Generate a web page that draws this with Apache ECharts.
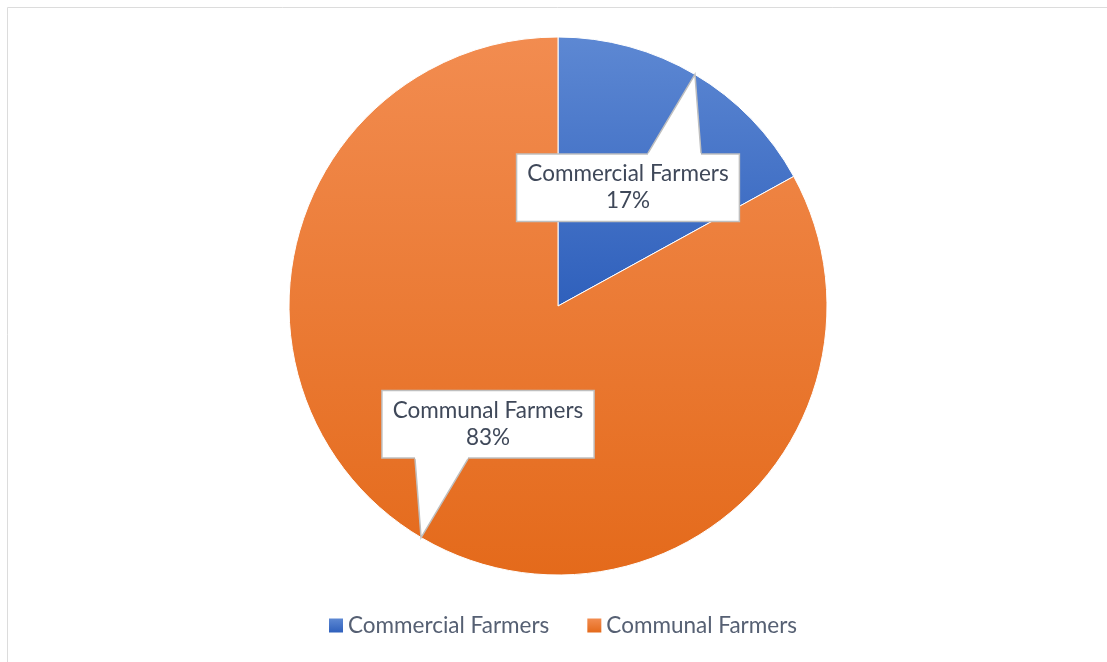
<!DOCTYPE html>
<html>
<head>
<meta charset="utf-8">
<script src="https://cdn.jsdelivr.net/npm/echarts@6/dist/echarts.min.js"></script>
<style>
  html, body { margin: 0; padding: 0; background: #ffffff; }
  #chart { width: 1107px; height: 662px; }
</style>
</head>
<body>
<div id="chart"></div>
<script>
// Farmer groups and their share (%)
const categories = ['Commercial Farmers', 'Communal Farmers'];
const shares = [17, 83];

const FONT = 'Lato, "Open Sans", sans-serif';
const LABEL_COLOR = '#3f4859';
const LEGEND_COLOR = '#566073';
const CALLOUT_BORDER = '#bfbfbf';

// Vertical shading per slice: lighter at the top, deeper at the bottom
const sliceColors = [
  new echarts.graphic.LinearGradient(0, 0, 0, 1, [
    { offset: 0, color: '#5d88d3' },
    { offset: 1, color: '#2f60bc' }
  ]),
  new echarts.graphic.LinearGradient(0, 0, 0, 1, [
    { offset: 0, color: '#f28c50' },
    { offset: 1, color: '#e46a1b' }
  ])
];

const chart = echarts.init(document.getElementById('chart'), null, { renderer: 'canvas' });
const labelRects = [];

chart.setOption({
  animation: false,
  backgroundColor: '#ffffff',
  legend: {
    data: categories,
    bottom: 20,
    left: 324,
    icon: 'rect',
    itemWidth: 14,
    itemHeight: 14,
    itemGap: 38,
    itemStyle: { borderWidth: 0 },
    textStyle: { color: LEGEND_COLOR, fontFamily: FONT, fontSize: 22.5 }
  },
  series: [{
    type: 'pie',
    z: 2,
    center: [558, 306],
    radius: 269,
    startAngle: 90,
    clockwise: true,
    silent: true,
    itemStyle: { borderColor: '#ffffff', borderWidth: 1 },
    label: {
      show: true,
      position: 'inside',
      formatter: '{b}\n{d}%',
      color: LABEL_COLOR,
      fontFamily: FONT,
      fontSize: 22.5,
      lineHeight: 27,
      align: 'center',
      backgroundColor: '#ffffff',
      borderColor: CALLOUT_BORDER,
      borderWidth: 1.5,
      padding: [9, 10, 3, 10]
    },
    labelLine: { show: false },
    labelLayout: function (params) {
      labelRects[params.dataIndex] = params.labelRect;
      return {};
    },
    data: categories.map((name, i) => ({
      name: name,
      value: shares[i],
      itemStyle: { color: sliceColors[i] }
    }))
  }]
});

// Callout pointers: from each label box to the rim of its slice
const data = chart.getModel().getSeriesByIndex(0).getData();
const elements = [
  { type: 'line', silent: true, z: 1,
    shape: { x1: 7.5, y1: 7.5, x2: 1107, y2: 7.5 },
    style: { stroke: '#dcdcdc', lineWidth: 1 } },
  { type: 'line', silent: true, z: 1,
    shape: { x1: 7.5, y1: 7.5, x2: 7.5, y2: 662 },
    style: { stroke: '#dcdcdc', lineWidth: 1 } }
];
for (let i = 0; i < categories.length; i++) {
  const lay = data.getItemLayout(i);
  const rect = labelRects[i];
  if (!lay || !rect) continue;
  const mid = (lay.startAngle + lay.endAngle) / 2;
  const tip = [lay.cx + lay.r * Math.cos(mid), lay.cy + lay.r * Math.sin(mid)];
  const bx = rect.x + rect.width / 2;
  const up = tip[1] < rect.y;
  const edgeY = up ? rect.y : rect.y + rect.height;
  const inward = up ? 3 : -3;
  const sign = tip[0] >= bx ? 1 : -1;
  const a = bx + sign * 20;
  const b = bx + sign * 73;
  elements.push({
    type: 'polygon', silent: true, z: 10,
    shape: { points: [[a, edgeY + inward], [a, edgeY], tip, [b, edgeY], [b, edgeY + inward]] },
    style: { fill: '#ffffff', stroke: null }
  });
  elements.push({
    type: 'polyline', silent: true, z: 11,
    shape: { points: [[a, edgeY], tip, [b, edgeY]] },
    style: { stroke: CALLOUT_BORDER, lineWidth: 1.5, fill: null, lineJoin: 'miter' }
  });
}
chart.setOption({ graphic: { elements: elements } });
</script>
</body>
</html>
